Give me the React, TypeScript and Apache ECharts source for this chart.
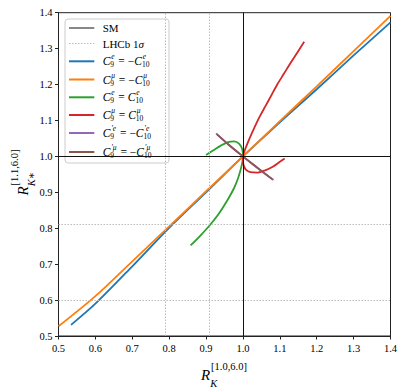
import React, { useEffect, useRef } from 'react';
import * as echarts from 'echarts';

const FONT = 'Liberation Serif, DejaVu Serif, serif';

// axis ranges
const xRange = [0.5, 1.4];
const yRange = [0.5, 1.4];
const tickStep = 0.1;

// Standard Model reference point
const smValue = 1.0;
// LHCb 1 sigma bands
const lhcbRK = [0.791, 0.908];
const lhcbRKstar = [0.604, 0.809];

// C9e = -C10e (blue)
const blueX = [0.534, 0.6, 0.7, 0.8, 0.9, 1.0, 1.1, 1.2, 1.3, 1.4];
const blueY = [0.531, 0.59, 0.694, 0.801, 0.9, 1.0, 1.095, 1.187, 1.281, 1.373];
// C9mu = -C10mu (orange)
const orangeX = [0.5, 0.6, 0.7, 0.8, 0.9, 1.0, 1.1, 1.2, 1.3, 1.4];
const orangeY = [0.527, 0.611, 0.708, 0.805, 0.903, 1.0, 1.098, 1.195, 1.293, 1.391];
// C9e = C10e (green)
const greenX = [0.858, 0.884, 0.909, 0.93, 0.947, 0.963, 0.976, 0.987, 0.995, 0.999, 1.0, 0.998, 0.99, 0.976, 0.96, 0.94, 0.92, 0.9];
const greenY = [0.752, 0.779, 0.807, 0.834, 0.86, 0.887, 0.912, 0.94, 0.968, 0.988, 1.003, 1.02, 1.035, 1.042, 1.04, 1.03, 1.017, 1.004];
// C9mu = C10mu (red)
const redX = [1.166, 1.148, 1.129, 1.111, 1.093, 1.077, 1.061, 1.045, 1.031, 1.018, 1.008, 1.001, 1.0, 1.002, 1.008, 1.02, 1.04, 1.06, 1.082, 1.1, 1.113];
const redY = [1.319, 1.29, 1.26, 1.23, 1.2, 1.17, 1.14, 1.11, 1.08, 1.05, 1.025, 1.005, 0.99, 0.975, 0.963, 0.956, 0.955, 0.961, 0.972, 0.985, 0.994];
// C9'e = -C10'e (purple)
const purpleX = [0.927, 0.963, 1.0, 1.04, 1.083];
const purpleY = [1.064, 1.031, 1.0, 0.967, 0.934];
// C9'mu = -C10'mu (brown)
const brownX = [0.929, 0.963, 1.0, 1.04, 1.08];
const brownY = [1.062, 1.031, 1.0, 0.968, 0.936];

const zip = (xs: number[], ys: number[]) => xs.map((x, i) => [x, ys[i]]);

const seriesDefs = [
  { key: 'blue', color: '#1f77b4', xs: blueX, ys: blueY, primed: false, lep: 'e', sign: '−' },
  { key: 'orange', color: '#ff7f0e', xs: orangeX, ys: orangeY, primed: false, lep: 'μ', sign: '−' },
  { key: 'green', color: '#2ca02c', xs: greenX, ys: greenY, primed: false, lep: 'e', sign: '' },
  { key: 'red', color: '#d62728', xs: redX, ys: redY, primed: false, lep: 'μ', sign: '' },
  { key: 'purple', color: '#9467bd', xs: purpleX, ys: purpleY, primed: true, lep: 'e', sign: '−' },
  { key: 'brown', color: '#8c564b', xs: brownX, ys: brownY, primed: true, lep: 'μ', sign: '−' },
];

type Tok =
  | { t: string; size?: number; italic?: boolean; dy?: number }
  | { sup: string; sub: string; size?: number; supItalic?: boolean; subItalic?: boolean };

let mctx: CanvasRenderingContext2D | null = null;
function measure(text: string, size: number, italic: boolean) {
  if (!mctx) mctx = document.createElement('canvas').getContext('2d');
  if (!mctx) return text.length * size * 0.5;
  mctx.font = `${italic ? 'italic ' : ''}${size}px ${FONT}`;
  return mctx.measureText(text).width;
}

function mathGroup(
  tokens: Tok[],
  o: { x: number; y: number; base: number; script: number; supDy: number; subDy: number; anchor?: 'left' | 'center'; rotation?: number; color?: string }
) {
  const color = o.color || '#000';
  const children: any[] = [];
  let cx = 0;
  const txt = (text: string, x: number, y: number, size: number, italic: boolean) => ({
    type: 'text',
    x,
    y,
    style: {
      text,
      fontSize: size,
      fontFamily: FONT,
      fontStyle: italic ? 'italic' : 'normal',
      fill: color,
      align: 'left',
      verticalAlign: 'middle',
      textAlign: 'left',
      textVerticalAlign: 'middle',
    },
  });
  for (const tok of tokens) {
    if ('t' in tok) {
      const s = tok.size ?? o.base;
      children.push(txt(tok.t, cx, tok.dy ?? 0, s, !!tok.italic));
      cx += measure(tok.t, s, !!tok.italic);
    } else {
      const s = tok.size ?? o.script;
      const w1 = tok.sup ? measure(tok.sup, s, !!tok.supItalic) : 0;
      const w2 = tok.sub ? measure(tok.sub, s, !!tok.subItalic) : 0;
      if (tok.sup) children.push(txt(tok.sup, cx + 0.8, o.supDy, s, !!tok.supItalic));
      if (tok.sub) children.push(txt(tok.sub, cx, o.subDy, s, !!tok.subItalic));
      cx += Math.max(w1 + 0.8, w2) + 1;
    }
  }
  const shift = o.anchor === 'center' ? -cx / 2 : 0;
  children.forEach((c) => (c.x += shift));
  return { type: 'group', x: o.x, y: o.y, rotation: o.rotation || 0, children };
}

function legendLabel(d: (typeof seriesDefs)[number]): Tok[] {
  const sup = (d.primed ? '′' : '') + d.lep;
  return [
    { t: 'C', italic: true },
    { sup, sub: '9', supItalic: true },
    { t: ' = ' + d.sign },
    { t: 'C', italic: true },
    { sup, sub: '10', supItalic: true },
  ];
}

export default function App() {
  const ref = useRef<HTMLDivElement>(null);
  useEffect(() => {
    if (!ref.current) return;
    const chart = echarts.init(ref.current, undefined, { renderer: 'svg' });

    const gridLeft = 58.5;
    const gridTop = 12.7;
    const gridRight = 16.5;
    const gridBottom = 55;

    const axisCommon = {
      type: 'value' as const,
      interval: tickStep,
      splitLine: { show: false },
      axisLine: { show: true, onZero: false, lineStyle: { color: '#222', width: 1 } },
      axisTick: { show: true, inside: false, length: 3.5, lineStyle: { color: '#222', width: 1 } },
      axisLabel: {
        color: '#000',
        fontFamily: FONT,
        fontSize: 10.5,
        formatter: (v: number) => v.toFixed(1),
      },
    };

    // legend graphic
    const legendX = 65;
    const legendY = 19;
    const legendRows = [28, 43.5, 61.3, 79.5, 97.3, 115, 133, 152];
    const lineX0 = 69;
    const lineX1 = 94.3;
    const textX = 102.7;
    const legendChildren: any[] = [
      {
        type: 'rect',
        shape: { x: legendX, y: legendY, width: 104, height: 144, r: 3 },
        style: { fill: 'rgba(255,255,255,0.8)', stroke: '#cccccc', lineWidth: 1 },
      },
      {
        type: 'line',
        shape: { x1: lineX0, y1: legendRows[0], x2: lineX1, y2: legendRows[0] },
        style: { stroke: '#111', lineWidth: 1 },
      },
      {
        type: 'text',
        x: textX,
        y: legendRows[0],
        style: { text: 'SM', fontSize: 11, fontFamily: FONT, fill: '#000', align: 'left', verticalAlign: 'middle', textAlign: 'left', textVerticalAlign: 'middle' },
      },
      {
        type: 'line',
        shape: { x1: lineX0, y1: legendRows[1], x2: lineX1, y2: legendRows[1] },
        style: { stroke: '#bbb', lineWidth: 1, lineDash: [1.5, 1.5] },
      },
      mathGroup([{ t: 'LHCb 1' }, { t: 'σ', italic: true }], {
        x: textX, y: legendRows[1], base: 11, script: 8, supDy: -4, subDy: 3,
      }),
    ];
    seriesDefs.forEach((d, i) => {
      const yy = legendRows[i + 2];
      legendChildren.push({
        type: 'line',
        shape: { x1: lineX0, y1: yy, x2: lineX1, y2: yy },
        style: { stroke: d.color, lineWidth: 2 },
      });
      legendChildren.push(
        mathGroup(legendLabel(d), { x: textX, y: yy, base: 11.5, script: 7.5, supDy: -4.5, subDy: 3.5 })
      );
    });

    const xLabel = mathGroup(
      [{ t: 'R', italic: true, size: 15 }, { sup: '[1.0,6.0]', sub: 'K', subItalic: true }],
      { x: (gridLeft + 407 - gridRight) / 2, y: 375, base: 15, script: 10.5, supDy: -9, subDy: 8, anchor: 'center' }
    );
    const yLabel = mathGroup(
      [{ t: 'R', italic: true, size: 15 }, { sup: '[1.1,6.0]', sub: 'K∗', subItalic: true }],
      { x: 23, y: 172, base: 15, script: 10.5, supDy: -9, subDy: 8, anchor: 'center', rotation: Math.PI / 2 }
    );

    const lineSeries = seriesDefs.map((d) => ({
      name: d.key,
      type: 'line' as const,
      data: zip(d.xs, d.ys),
      showSymbol: false,
      symbol: 'none',
      smooth: 0.3,
      clip: true,
      z: 3,
      lineStyle: { color: d.color, width: 1.8 },
      itemStyle: { color: d.color },
    }));

    chart.setOption({
      animation: false,
      grid: {
        left: gridLeft,
        top: gridTop,
        right: gridRight,
        bottom: gridBottom,
        show: true,
        borderColor: '#222',
        borderWidth: 1,
        backgroundColor: 'transparent',
      },
      xAxis: { ...axisCommon, min: xRange[0], max: xRange[1], axisLabel: { ...axisCommon.axisLabel, margin: 7 } },
      yAxis: { ...axisCommon, min: yRange[0], max: yRange[1], axisLabel: { ...axisCommon.axisLabel, margin: 6 } },
      series: [
        {
          name: 'LHCb',
          type: 'line',
          data: [],
          z: 1,
          markLine: {
            silent: true,
            symbol: ['none', 'none'],
            label: { show: false },
            lineStyle: { color: '#bbbbbb', width: 1, type: [1.5, 1.5] },
            data: [...lhcbRK.map((v) => ({ xAxis: v })), ...lhcbRKstar.map((v) => ({ yAxis: v }))],
          },
        },
        {
          name: 'SM',
          type: 'line',
          data: [],
          z: 2,
          markLine: {
            silent: true,
            symbol: ['none', 'none'],
            label: { show: false },
            lineStyle: { color: '#111', width: 1, type: 'solid' },
            data: [{ xAxis: smValue }, { yAxis: smValue }],
          },
        },
        ...lineSeries,
      ],
      graphic: [
        { type: 'group', z: 100, children: legendChildren },
        xLabel,
        yLabel,
      ],
    });
    return () => chart.dispose();
  }, []);
  return <div ref={ref} style={{ position: 'absolute', left: 0, top: 0, width: 407, height: 391 }} />;
}
